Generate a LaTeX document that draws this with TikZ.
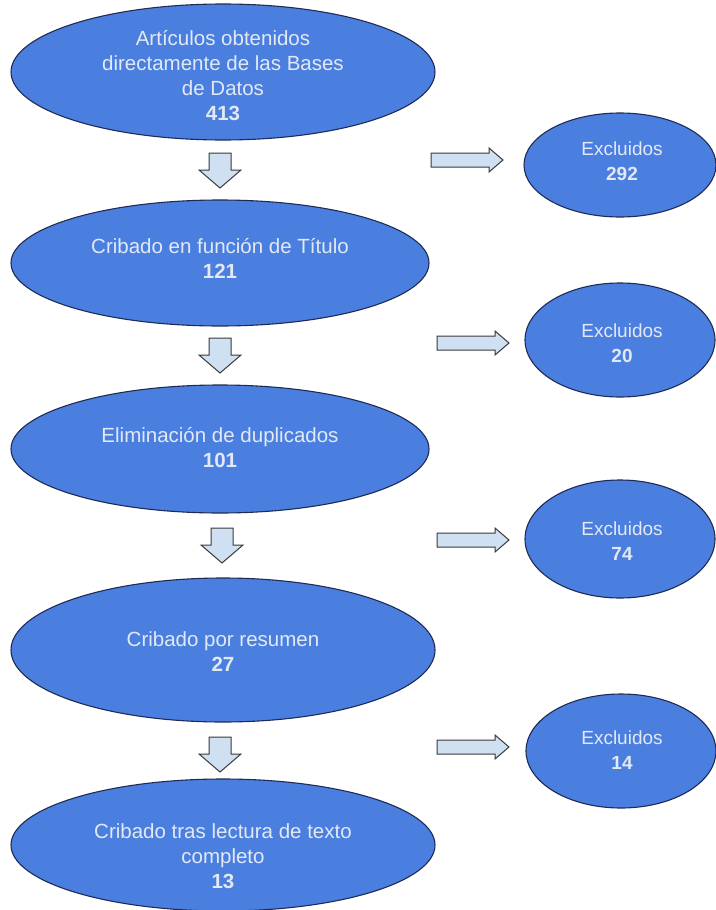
\documentclass[tikz,border=0pt]{standalone}
\usepackage{fontspec}
\setmainfont{Liberation Sans}
\usetikzlibrary{shapes.geometric}
\definecolor{ellfill}{HTML}{4A7FE0}
\definecolor{elldraw}{HTML}{1F2A55}
\definecolor{txt}{HTML}{E2E9F5}
\definecolor{arrfill}{HTML}{CFE0F3}
\definecolor{arrdraw}{HTML}{3A3A3A}
\tikzset{
  ell/.style={ellipse, draw=elldraw, fill=ellfill, line width=1.1pt, inner sep=0pt},
  lbl/.style={text=txt, align=center, font=\fontsize{20.5}{25}\selectfont, inner sep=0pt},
  lbr/.style={text=txt, align=center, font=\fontsize{19}{25}\selectfont, inner sep=0pt},
  blk/.style={draw=arrdraw, fill=arrfill, line width=1pt, line join=miter},
  darr/.pic={\draw[blk] (-11,0) -- (11,0) -- (11,17) -- (21,17) -- (0,35) -- (-21,17) -- (-11,17) -- cycle;},
  rarr/.pic={\draw[blk] (0,-7) -- (58,-7) -- (58,-12) -- (72,0) -- (58,12) -- (58,7) -- (0,7) -- cycle;}
}
\begin{document}
\begin{tikzpicture}[x=1pt,y=-1pt]
\useasboundingbox (0,0) rectangle (715,910);
% left column ellipses
\node[ell, minimum width=424, minimum height=136] (e1) at (223,72) {};
\node[ell, minimum width=418, minimum height=126] (e2) at (220,263) {};
\node[ell, minimum width=418, minimum height=128] (e3) at (220,449) {};
\node[ell, minimum width=424, minimum height=144] (e4) at (223,650) {};
\node[ell, minimum width=424, minimum height=132] (e5) at (223,845) {};
% right column ellipses
\node[ell, minimum width=192, minimum height=104] (r1) at (620,165) {};
\node[ell, minimum width=190, minimum height=114] (r2) at (620,340) {};
\node[ell, minimum width=190, minimum height=118] (r3) at (620,539) {};
\node[ell, minimum width=190, minimum height=114] (r4) at (621,751) {};
% labels
\node[lbl] (t1) at (223,76) {Artículos obtenidos\\directamente de las Bases\\de Datos\\\textbf{413}};
\node[lbl] (t2) at (220,258) {Cribado en función de Título\\\textbf{121}};
\node[lbl] (t3) at (220,448) {Eliminación de duplicados\\\textbf{101}};
\node[lbl] (t4) at (223,652) {Cribado por resumen\\\textbf{27}};
\node[lbl] (t5) at (223,856) {Cribado tras lectura de texto\\completo\\\textbf{13}};
\node[lbr] (x1) at (622,161) {Excluidos\\\textbf{292}};
\node[lbr] (x2) at (622,343) {Excluidos\\\textbf{20}};
\node[lbr] (x3) at (622,541) {Excluidos\\\textbf{74}};
\node[lbr] (x4) at (622,750) {Excluidos\\\textbf{14}};
% down arrows
\pic (d1) at (220,153) {darr};
\pic (d2) at (220,338) {darr};
\pic (d3) at (222,528) {darr};
\pic (d4) at (220,737) {darr};
% right arrows
\pic (a1) at (431,160) {rarr};
\pic (a2) at (437,343) {rarr};
\pic (a3) at (437,540) {rarr};
\pic (a4) at (437,747) {rarr};
\end{tikzpicture}
\end{document}
